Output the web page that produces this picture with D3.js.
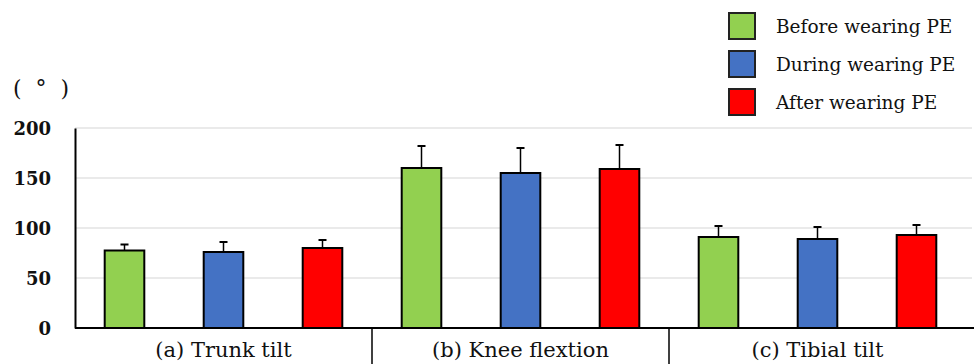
<!DOCTYPE html>
<html>
<head>
<meta charset="utf-8">
<script src="https://cdn.jsdelivr.net/npm/d3@7"></script>
<style>
  body { margin: 0; background: #fff; }
  svg text { font-family: "DejaVu Serif", serif; fill: #111; }
</style>
</head>
<body>
<div id="chart"></div>
<script>
// data
const categories = ["(a) Trunk tilt", "(b) Knee flextion", "(c) Tibial tilt"];
const series = ["Before wearing PE", "During wearing PE", "After wearing PE"];
const colors = ["#92d050", "#4472c4", "#ff0000"];
const before = [77.5, 160, 91];
const during = [76, 155, 89];
const after = [80, 159, 93];
const beforeSd = [6, 22, 11];
const duringSd = [10, 25, 12];
const afterSd = [8, 24, 10];
const yTicks = [0, 50, 100, 150, 200];

const means = [before, during, after];
const sds = [beforeSd, duringSd, afterSd];

const W = 974, H = 364;
const m = {left: 75, right: 2, top: 128, bottom: 36};

const svg = d3.select('#chart').append('svg')
  .attr('width', W).attr('height', H);

const x0 = d3.scaleBand().domain(categories)
  .range([m.left, m.left + 891]).padding(0);
const x1 = d3.scaleBand().domain(series)
  .range([0, x0.bandwidth()]).paddingInner(0.6).paddingOuter(0.3);
const y = d3.scaleLinear().domain([0, 200]).range([H - m.bottom, m.top]);

// gridlines
svg.append('g').selectAll('line').data(yTicks.slice(1)).enter().append('line')
  .attr('x1', m.left).attr('x2', W - m.right)
  .attr('y1', d => y(d)).attr('y2', d => y(d))
  .attr('stroke', '#e3e3e3').attr('stroke-width', 1.5);

// y axis
const yAxis = svg.append('g')
  .attr('transform', `translate(${m.left},0)`)
  .call(d3.axisLeft(y).tickValues(yTicks).tickSize(0).tickPadding(24));
yAxis.attr('font-family', null);
yAxis.select('.domain').attr('stroke', '#000').attr('stroke-width', 2);
yAxis.selectAll('text')
  .attr('font-size', 18).attr('font-weight', 'bold')
  .attr('fill', '#222').attr('dy', '0.36em');

svg.append('text').attr('x', 13).attr('y', 96)
  .attr('font-size', 22)
  .attr('xml:space', 'preserve')
  .text('(  °  )');

// bars
const rows = [];
categories.forEach((c, i) => {
  series.forEach((s, j) => {
    rows.push({cat: c, ser: s, v: means[j][i], sd: sds[j][i], color: colors[j]});
  });
});

const bars = svg.append('g').selectAll('g').data(rows).enter().append('g')
  .attr('transform', d => `translate(${x0(d.cat) + x1(d.ser)},0)`);

bars.append('line')
  .attr('x1', x1.bandwidth() / 2).attr('x2', x1.bandwidth() / 2)
  .attr('y1', d => y(d.v)).attr('y2', d => y(d.v + d.sd))
  .attr('stroke', '#000').attr('stroke-width', 1.5);
bars.append('line')
  .attr('x1', x1.bandwidth() / 2 - 4).attr('x2', x1.bandwidth() / 2 + 4)
  .attr('y1', d => y(d.v + d.sd)).attr('y2', d => y(d.v + d.sd))
  .attr('stroke', '#000').attr('stroke-width', 2);
bars.append('rect')
  .attr('x', 0).attr('width', x1.bandwidth())
  .attr('y', d => y(d.v)).attr('height', d => y(0) - y(d.v))
  .attr('fill', d => d.color)
  .attr('stroke', '#000').attr('stroke-width', 2);

// x axis line + dividers
svg.append('line')
  .attr('x1', m.left).attr('x2', W)
  .attr('y1', y(0)).attr('y2', y(0))
  .attr('stroke', '#000').attr('stroke-width', 2);
svg.append('g').selectAll('line').data(categories.slice(1)).enter().append('line')
  .attr('x1', d => x0(d)).attr('x2', d => x0(d))
  .attr('y1', y(0)).attr('y2', H)
  .attr('stroke', '#000').attr('stroke-width', 1.5);

svg.append('g').selectAll('text').data(categories).enter().append('text')
  .attr('x', d => x0(d) + x0.bandwidth() / 2)
  .attr('y', 357)
  .attr('text-anchor', 'middle')
  .attr('font-size', 21)
  .text(d => d);

// legend
const legend = svg.append('g').selectAll('g').data(series).enter().append('g')
  .attr('transform', (d, i) => `translate(729,${13 + i * 38})`);
legend.append('rect')
  .attr('width', 26).attr('height', 26)
  .attr('fill', (d, i) => colors[i])
  .attr('stroke', '#222').attr('stroke-width', 2);
legend.append('text')
  .attr('x', 47).attr('y', 20)
  .attr('font-size', 18.5)
  .text(d => d);
</script>
</body>
</html>
